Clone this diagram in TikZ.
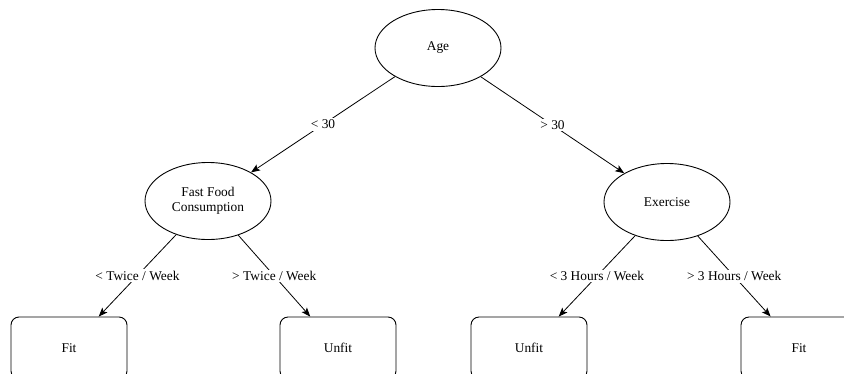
\documentclass[tikz,border=0pt]{standalone}
\usepackage{fontspec}
\setmainfont{Liberation Serif}
\usetikzlibrary{shapes.geometric,arrows.meta}
\begin{document}
\begin{tikzpicture}[x=1pt,y=-1pt,
  every node/.style={font=\fontsize{13.4}{15.5}\selectfont},
  decision/.style={ellipse,draw,line width=0.9pt,minimum width=126pt,minimum height=77pt,inner sep=0pt,align=center},
  leaf/.style={rectangle,rounded corners=8pt,draw,line width=0.9pt,minimum width=116pt,minimum height=62pt,inner sep=0pt},
  branch/.style={draw,line width=0.8pt,-{Stealth[length=9pt,width=7pt,inset=2pt]}},
  cond/.style={fill=white,inner sep=1.5pt}]
\useasboundingbox (0,0) rectangle (844,373);
\clip (0,0) rectangle (844,373);
% decision nodes
\node[decision] (age) at (438,48) {Age};
\node[decision] (food) at (208,201) {Fast Food\\Consumption};
\node[decision] (exer) at (667,202) {Exercise};
% outcome leaves
\node[leaf] (fitA) at (69,348) {Fit};
\node[leaf] (unfitA) at (338,348) {Unfit};
\node[leaf] (unfitB) at (529,348) {Unfit};
\node[leaf] (fitB) at (799,348) {Fit};
% branches with their conditions
\draw[branch] (age) -- node[cond] {< 30} (food);
\draw[branch] (age) -- node[cond] {> 30} (exer);
\draw[branch] (food) -- node[cond] {< Twice / Week} (fitA);
\draw[branch] (food) -- node[cond] {> Twice / Week} (unfitA);
\draw[branch] (exer) -- node[cond] {< 3 Hours / Week} (unfitB);
\draw[branch] (exer) -- node[cond] {> 3 Hours / Week} (fitB);
\end{tikzpicture}
\end{document}
